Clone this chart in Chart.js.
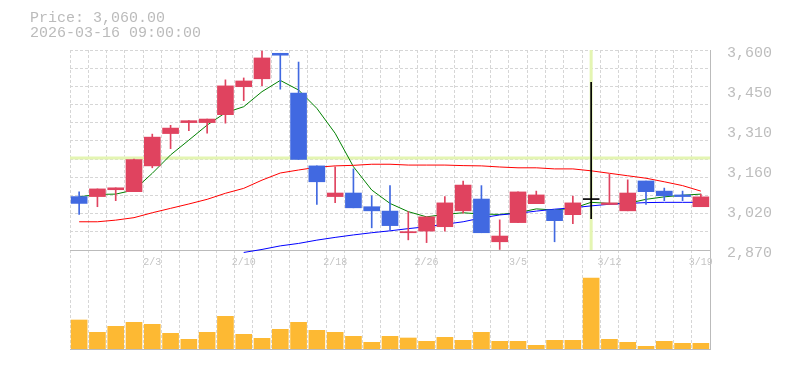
<!DOCTYPE html>
<html>
<head>
<meta charset="utf-8">
<script src="https://cdn.jsdelivr.net/npm/chart.js@4.4.1/dist/chart.umd.min.js"></script>
<style>
  html, body { margin: 0; padding: 0; background: #ffffff; overflow: hidden; }
  #wrap { position: relative; width: 785px; height: 370px; }
  canvas { position: absolute; left: 0; top: 0; }
  #hdr { position: absolute; left: 30px; top: 11px; font-family: 'Liberation Mono', monospace; font-size: 15px; line-height: 15px; color: #bbbbbb; white-space: pre; z-index: 3; }
</style>
</head>
<body>
<div id="wrap">
  <canvas id="vol" width="785" height="370"></canvas>
  <canvas id="price" width="785" height="370"></canvas>
  <div id="hdr">Price: 3,060.00
2026-03-16 09:00:00</div>
</div>
<script>
// ---- data ----
const dates = ['1/28','1/29','1/30','2/2','2/3','2/4','2/5','2/6','2/9','2/10',
  '2/12','2/13','2/16','2/17','2/18','2/19','2/20','2/24','2/25','2/26',
  '2/27','3/2','3/3','3/4','3/5','3/6','3/9','3/10','3/11','3/12',
  '3/13','3/16','3/17','3/18','3/19'];
const opens  = [3065,3065,3090,3083,3177,3295,3335,3335,3364,3466,3495,3588,3443,3177,3065,3078,3028,3012,2933,2939,2955,3013,3056,2900,2970,3039,3016,2999,3054,3036,3013,3122,3085,3071,3028];
const highs  = [3082,3093,3097,3202,3293,3325,3342,3348,3491,3498,3596,3588,3556,3177,3174,3166,3068,3105,3010,2991,3065,3122,3105,2980,3082,3085,3016,3067,3482,3146,3126,3122,3096,3085,3074];
const lows   = [3000,3028,3050,3083,3170,3240,3306,3296,3333,3415,3470,3457,3201,3036,3043,3024,2951,2943,2907,2897,2939,3004,2933,2872,2970,3039,2900,2966,2984,3036,3013,3036,3050,3050,3028];
const closes = [3040,3093,3097,3200,3282,3315,3342,3348,3469,3487,3571,3581,3201,3119,3078,3024,3013,2959,2937,2991,3042,3107,2933,2921,3082,3071,2977,3042,3054,3042,3078,3083,3068,3065,3064];
const ma5  = [3064,3073,3074,3089,3150,3217,3271,3326,3371,3393,3448,3489,3454,3387,3296,3174,3089,3040,3010,2991,3000,3006,3001,3000,3006,3020,3016,3022,3044,3040,3040,3055,3064,3070,3074];
const ma25 = [2973,2973,2979,2988,3006,3022,3038,3055,3077,3095,3125,3151,3162,3172,3177,3179,3183,3183,3180,3180,3180,3178,3177,3173,3170,3170,3166,3166,3159,3150,3141,3132,3119,3105,3085];
const ma75 = [null,null,null,null,null,null,null,null,null,2861,2872,2885,2894,2906,2916,2925,2933,2940,2948,2955,2964,2973,2987,2998,3004,3012,3019,3024,3031,3037,3040,3043,3044,3044,3044];
const volumes = [29000,16700,22700,26700,24700,15700,9700,16700,32700,14700,10700,19700,26700,18700,16700,12700,6700,12700,11000,7700,11700,8700,16700,7700,7700,3700,8700,8700,71000,9700,6700,2700,7700,5700,5700];
const priceTicks = [2870,3016,3162,3308,3454,3600];
const priceTickLabels = ['2,870','3,020','3,160','3,310','3,450','3,600'];
const labelEvery = 5;
const crossIndex = 28;
const crossPrice = 3206;

// ---- styles ----
const UP = '#e0435f', DOWN = '#4169e1', EVEN = '#000000';
const GRID = '#d6d6d6', AXIS = '#bbbbbb';
const DASH = [3, 2];
const candleColors = opens.map((o, i) => closes[i] > o ? UP : (closes[i] < o ? DOWN : EVEN));

const crosshair = {
  id: 'crosshair',
  beforeDatasetsDraw(chart) {
    const { ctx, chartArea: a, scales } = chart;
    const px = scales.x.getPixelForValue(crossIndex);
    const py = scales.y.getPixelForValue(crossPrice);
    ctx.save();
    ctx.strokeStyle = '#e4f5b2';
    ctx.lineWidth = 3;
    ctx.beginPath();
    ctx.moveTo(px, a.top); ctx.lineTo(px, a.bottom);
    ctx.moveTo(a.left, py); ctx.lineTo(a.right, py);
    ctx.stroke();
    ctx.restore();
  }
};

Chart.defaults.font.family = "'Liberation Mono', monospace";
Chart.defaults.animation = false;

new Chart(document.getElementById('price'), {
  type: 'bar',
  data: {
    labels: dates,
    datasets: [
      { type: 'line', data: ma5, borderColor: '#008000', borderWidth: 1, pointRadius: 0, tension: 0, order: 4, yAxisID: 'y' },
      { type: 'line', data: ma25, borderColor: '#ff0000', borderWidth: 1, pointRadius: 0, tension: 0, order: 3, yAxisID: 'y' },
      { type: 'line', data: ma75, borderColor: '#0000ff', borderWidth: 1, pointRadius: 0, tension: 0, order: 2, yAxisID: 'y', clip: { left: 0, top: 0, right: 0, bottom: 4 } },
      { data: lows.map((l, i) => [l, highs[i]]), backgroundColor: candleColors, barThickness: 1, grouped: false, order: 1, yAxisID: 'y' },
      { data: opens.map((o, i) => [o, closes[i]]), backgroundColor: candleColors, barThickness: 16, minBarLength: 1, grouped: false, order: 0, yAxisID: 'y' }
    ]
  },
  options: {
    responsive: false,
    devicePixelRatio: 1,
    layout: { padding: { left: 70, top: 50, right: 0, bottom: 100 } },
    plugins: { legend: { display: false }, tooltip: { enabled: false } },
    scales: {
      x: {
        type: 'category',
        offset: true,
        grid: { color: GRID, drawTicks: false, offset: true },
        border: { display: true, color: AXIS, width: 1, dash: DASH },
        ticks: {
          autoSkip: false, maxRotation: 0, padding: 6, color: '#c4c4c4',
          font: { size: 10 },
          callback: (v, i) => (i % labelEvery === labelEvery - 1 ? dates[i] : '')
        },
        afterFit: s => { s.height = 20; }
      },
      y: {
        position: 'right',
        min: 2870, max: 3600,
        grid: { display: false },
        border: { display: true, color: AXIS, width: 1 },
        afterBuildTicks: s => { s.ticks = priceTicks.map(v => ({ value: v })); },
        ticks: {
          padding: 9, color: '#bdbdbd', labelOffset: 3,
          font: { size: 15 },
          callback: (v, i) => priceTickLabels[i]
        },
        afterFit: s => { s.width = 75; }
      },
      yg: {
        position: 'left',
        min: 0, max: 11,
        ticks: { display: false, stepSize: 1 },
        grid: { color: GRID, drawTicks: false },
        border: { display: false, dash: DASH },
        afterFit: s => { s.width = 0; }
      }
    }
  },
  plugins: [crosshair]
});

new Chart(document.getElementById('vol'), {
  type: 'bar',
  data: {
    labels: dates,
    datasets: [
      { data: volumes, backgroundColor: '#fdb933', barThickness: 16 }
    ]
  },
  options: {
    responsive: false,
    devicePixelRatio: 1,
    layout: { padding: { left: 70, top: 250, right: 0, bottom: 21 } },
    plugins: { legend: { display: false }, tooltip: { enabled: false } },
    scales: {
      x: {
        offset: true,
        grid: { color: GRID, drawTicks: false, offset: true },
        border: { display: true, color: AXIS, width: 1, dash: DASH },
        ticks: { display: false },
        afterFit: s => { s.height = 0; }
      },
      y: {
        position: 'right',
        min: 0, max: 99000,
        grid: { display: false },
        border: { display: true, color: AXIS, width: 1 },
        ticks: { display: false },
        afterFit: s => { s.width = 75; }
      }
    }
  }
});
</script>
</body>
</html>
